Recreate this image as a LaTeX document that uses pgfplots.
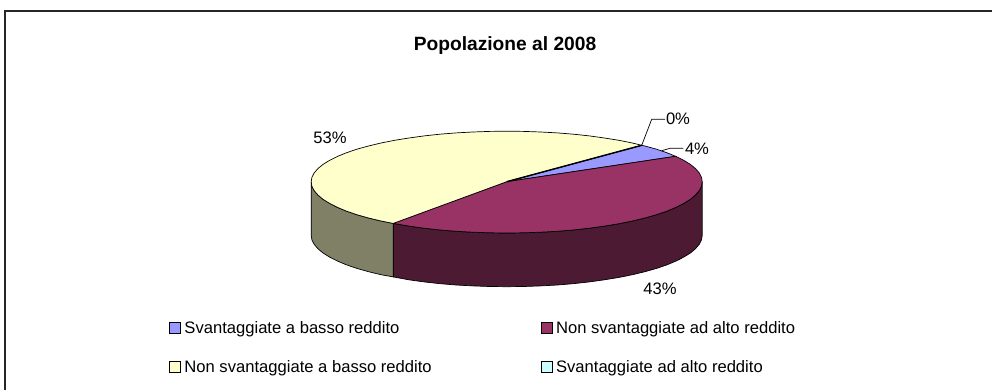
\documentclass[border=0pt]{standalone}
\usepackage{fontspec}
\setmainfont{Liberation Sans}
\usepackage{pgfplots}
\pgfplotsset{compat=1.18}
\definecolor{cBlue}{HTML}{9999FF}
\definecolor{cMaroon}{HTML}{993366}
\definecolor{cYellow}{HTML}{FFFFCC}
\definecolor{cCyan}{HTML}{CCFFFF}
\definecolor{sMaroon}{HTML}{4D1A33}
\definecolor{sYellow}{HTML}{808066}
\newcommand{\lab}{\fontsize{16.6}{19}\selectfont}
\begin{document}
\begin{tikzpicture}[x=1pt,y=1pt]
\useasboundingbox (0,0) rectangle (992pt,390pt);
\begin{axis}[
  at={(0,0)},anchor=south west,
  scale only axis,width=992pt,height=390pt,
  xmin=0,xmax=992,ymin=0,ymax=390,y dir=reverse,
  hide axis,clip=false,
  legend columns=2,
  legend cell align=left,
  legend image code/.code={\draw[#1,draw=black,line width=0.8pt] (0pt,0pt) rectangle (11pt,11pt);},
  legend style={draw=none,fill=none,at={(0.1705,0.1755)},anchor=north west,font=\lab,
    inner sep=0pt,outer sep=0pt,
    nodes={inner sep=0pt,outer sep=0pt,anchor=base west},
    /tikz/every odd column/.append style={column sep=3.5pt},
    /tikz/every even column/.append style={column sep=109pt},
    row sep=25pt},
]
% frame
\addplot[forget plot,black!85,line width=1.5pt] coordinates {(5,390) (5,11) (992,11)};
% side: maroon
\addplot[forget plot,fill=sMaroon,draw=black,line width=0.7pt] coordinates {
(393.2,223.4)(408.95,226.1)(424.1,228.2)(439.8,229.95)(456.1,231.3)(472.8,232.2)(489.7,232.8)(506.7,233.0)(523.7,232.8)(540.6,232.2)(557.3,231.3)(573.6,229.95)(589.3,228.2)(604.45,226.1)(618.8,223.75)(632.4,221.0)(644.9,218.0)(656.5,214.7)(666.8,211.2)(676.0,207.35)(683.9,203.3)(690.4,199.3)(695.5,195.0)(699.2,190.65)(701.5,186.2)(702.2,181.7)
(702.2,235.4)(701.5,239.9)(699.2,244.35)(695.5,248.7)(690.4,253.0)(683.9,257.0)(676.0,261.05)(666.8,264.9)(656.5,268.4)(644.9,271.7)(632.4,274.7)(618.8,277.45)(604.45,279.8)(589.3,281.9)(573.6,283.65)(557.3,285.0)(540.6,285.9)(523.7,286.5)(506.7,286.7)(489.7,286.5)(472.8,285.9)(456.1,285.0)(439.8,283.65)(424.1,281.9)(408.95,279.8)(393.2,276.9)
} --cycle;
% side: yellow
\addplot[forget plot,fill=sYellow,draw=black,line width=0.7pt] coordinates {
(311.2,181.7)(311.9,186.2)(314.2,190.65)(317.9,195.0)(323.0,199.3)(329.5,203.3)(337.4,207.35)(346.6,211.2)(356.9,214.7)(368.5,218.0)(381.0,221.0)(393.2,223.4)
(393.2,276.9)(381.0,274.7)(368.5,271.7)(356.9,268.4)(346.6,264.9)(337.4,261.05)(329.5,257.0)(323.0,253.0)(317.9,248.7)(314.2,244.35)(311.9,239.9)(311.2,235.4)
} --cycle;
% top: 4 %
\addplot[fill=cBlue,draw=black,line width=0.7pt] coordinates {
(506.7,181.7)(675.6,156.3)(666.8,152.7)(656.5,149.2)(644.9,146.0)(641.7,145.3)
} --cycle;
\addlegendentry{Svantaggiate a basso reddito}
% top: 43 %
\addplot[fill=cMaroon,draw=black,line width=0.7pt] coordinates {
(506.7,181.7)(393.2,223.4)(408.95,226.1)(424.1,228.2)(439.8,229.95)(456.1,231.3)(472.8,232.2)(489.7,232.8)(506.7,233.0)(523.7,232.8)(540.6,232.2)(557.3,231.3)(573.6,229.95)(589.3,228.2)(604.45,226.1)(618.8,223.75)(632.4,221.0)(644.9,218.0)(656.5,214.7)(666.8,211.2)(676.0,207.35)(683.9,203.3)(690.4,199.3)(695.5,195.0)(699.2,190.65)(701.5,186.2)(702.2,181.7)(701.5,177.3)(699.2,172.9)(695.5,168.6)(690.4,164.4)(683.9,160.4)(675.6,156.3)
} --cycle;
\addlegendentry{Non svantaggiate ad alto reddito}
% top: 53 %
\addplot[fill=cYellow,draw=black,line width=0.7pt] coordinates {
(506.7,181.7)(641.7,145.3)(632.4,143.0)(618.8,140.3)(604.45,138.0)(589.3,135.9)(573.6,134.2)(557.3,132.9)(540.6,132.0)(523.7,131.4)(506.7,131.2)(489.7,131.4)(472.8,132.0)(456.1,132.9)(439.8,134.2)(424.1,135.9)(408.95,138.0)(394.6,140.3)(381.0,143.0)(368.5,146.0)(356.9,149.2)(346.6,152.7)(337.4,156.45)(329.5,160.4)(323.0,164.4)(317.9,168.6)(314.2,172.9)(311.9,177.3)(311.2,181.7)(311.9,186.2)(314.2,190.65)(317.9,195.0)(323.0,199.3)(329.5,203.3)(337.4,207.35)(346.6,211.2)(356.9,214.7)(368.5,218.0)(381.0,221.0)(393.2,223.4)
} --cycle;
\addlegendentry{Non svantaggiate a basso reddito}
% top: 0 %
\addplot[fill=cCyan,draw=black,line width=1.4pt] coordinates {(506.7,181.7)(641.7,145.3)};
\addlegendentry{Svantaggiate ad alto reddito}
% leader lines
\addplot[forget plot,black,line width=0.7pt] coordinates {(641.7,145.3)(651.7,119.3)(665,119.3)};
\addplot[forget plot,black,line width=0.7pt] coordinates {(661.7,150.7)(670,148.3)(683.3,148.3)};
\node[font=\fontsize{19.2}{22}\bfseries\selectfont,anchor=base] at (axis cs:505,50.7) {Popolazione al 2008};
\node[font=\lab] at (axis cs:678,119) {0\%};
\node[font=\lab] at (axis cs:697,149) {4\%};
\node[font=\lab] at (axis cs:330,138) {53\%};
\node[font=\lab] at (axis cs:660,289) {43\%};
\end{axis}
\end{tikzpicture}
\end{document}
